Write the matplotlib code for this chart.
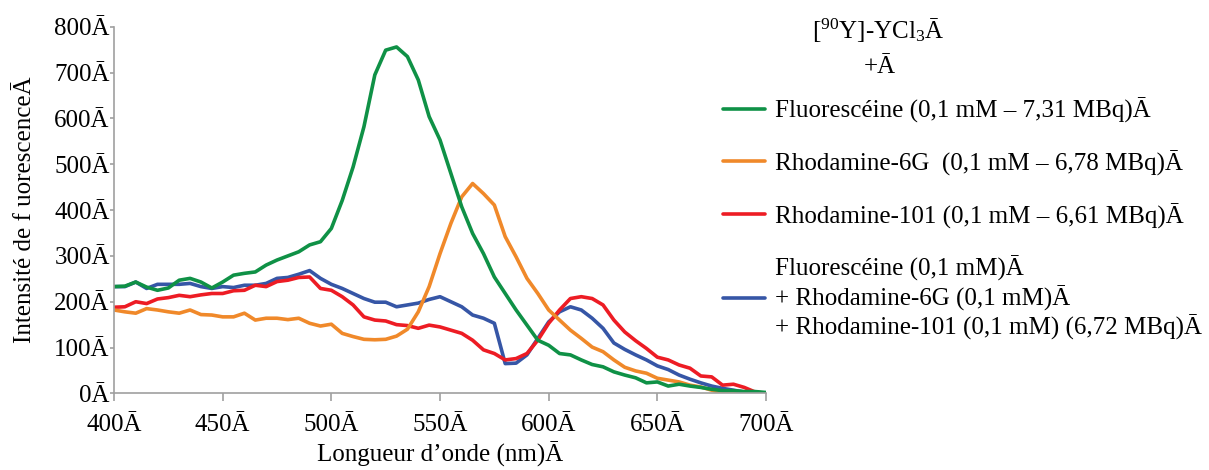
import matplotlib
matplotlib.use("Agg")
import matplotlib.pyplot as plt

plt.rcParams["font.family"] = ["Liberation Serif", "DejaVu Serif"]
plt.rcParams["mathtext.fontset"] = "custom"
plt.rcParams["mathtext.rm"] = "Liberation Serif"
plt.rcParams["mathtext.it"] = "Liberation Serif"

# wavelength grid (nm), 5 nm steps
wl = list(range(400, 705, 5))

fluoresceine = [233, 234, 243, 232, 225, 230, 247, 251, 243, 230,
                243, 258, 262, 265, 280, 291, 300, 309, 324, 331,
                360, 421, 494, 582, 695, 749, 756, 735, 684, 604,
                553, 480, 407, 349, 305, 254, 218, 182, 149, 116,
                105, 87, 84, 73, 63, 58, 47, 40, 34, 23,
                25, 16, 20, 16, 13, 9, 6, 6, 4, 4, 2]
rhodamine_6g = [182, 178, 175, 185, 182, 178, 175, 182, 172, 171,
                167, 167, 175, 160, 164, 164, 161, 164, 153, 147,
                151, 131, 124, 118, 117, 118, 125, 140, 178, 233,
                305, 371, 429, 458, 436, 411, 342, 298, 251, 218,
                182, 160, 138, 120, 101, 91, 73, 57, 49, 44,
                33, 29, 25, 18, 14, 7, 1, 0, 0, 0, 0]
rhodamine_101 = [188, 189, 200, 196, 206, 209, 214, 211, 215, 218,
                 218, 224, 225, 236, 233, 244, 247, 253, 254, 229,
                 225, 211, 193, 167, 160, 158, 150, 148, 142, 149,
                 145, 138, 131, 116, 95, 87, 73, 76, 87, 116,
                 153, 182, 207, 211, 207, 193, 160, 134, 115, 98,
                 79, 73, 62, 55, 38, 36, 18, 20, 13, 3, 0]
melange = [233, 233, 243, 229, 238, 238, 238, 240, 233, 229,
           233, 231, 236, 236, 240, 251, 253, 260, 268, 251,
           238, 229, 218, 207, 199, 199, 189, 193, 197, 205,
           211, 200, 189, 171, 164, 153, 65, 66, 84, 120,
           156, 178, 189, 182, 164, 142, 110, 96, 84, 73,
           60, 52, 40, 31, 23, 16, 11, 7, 3, 1, 0]

labels = ["Fluorescéine (0,1 mM – 7,31 MBq)Ā",
          "Rhodamine-6G  (0,1 mM – 6,78 MBq)Ā",
          "Rhodamine-101 (0,1 mM – 6,61 MBq)Ā",
          "Fluorescéine (0,1 mM)Ā\n+ Rhodamine-6G (0,1 mM)Ā\n"
          "+ Rhodamine-101 (0,1 mM) (6,72 MBq)Ā"]
colors = ["#0f9146", "#f0892a", "#ed1c24", "#3656a6"]
x_ticks = [400, 450, 500, 550, 600, 650, 700]
y_ticks = [0, 100, 200, 300, 400, 500, 600, 700, 800]

FS = 18

fig = plt.figure(figsize=(12.09, 4.70), dpi=100)
ax = fig.add_axes([0.0943, 0.163, 0.5393, 0.780])

series = [fluoresceine, rhodamine_6g, rhodamine_101, melange]
# mixture drawn first so the single dyes sit on top
for idx in [3, 2, 1, 0]:
    ax.plot(wl, series[idx], color=colors[idx], lw=2.6, label=labels[idx],
            solid_joinstyle="round", solid_capstyle="round")

ax.set_xlim(400, 700)
ax.set_ylim(0, 800)
ax.set_xticks(x_ticks)
ax.set_xticklabels([f"{v}Ā" for v in x_ticks])
ax.set_yticks(y_ticks)
ax.set_yticklabels([f"{v}Ā" for v in y_ticks])

for side in ["top", "right"]:
    ax.spines[side].set_visible(False)
for side in ["left", "bottom"]:
    ax.spines[side].set_color("#a0a0a0")
    ax.spines[side].set_linewidth(1.2)

ax.tick_params(axis="x", direction="out", length=6, width=1.2,
               color="#a0a0a0", labelsize=FS, pad=9)
ax.tick_params(axis="y", direction="out", length=3, width=1.2,
               color="#a0a0a0", labelsize=FS, pad=0)

ax.set_xlabel("Longueur d’onde (nm)Ā", fontsize=FS, labelpad=4)
ax.set_ylabel("Intensité de f uorescenceĀ", fontsize=FS, labelpad=13)

fig.text(0.726, 0.935, r"[$^{90}$Y]-YCl$_3$Ā", fontsize=FS,
         ha="center", va="center")
fig.text(0.728, 0.857, "+Ā", fontsize=FS, ha="center", va="center")

handles, labs = ax.get_legend_handles_labels()
order = [3, 2, 1, 0]
fig.legend([handles[i] for i in order], [labs[i] for i in order],
           loc="upper left", bbox_to_anchor=(0.598, 0.793),
           frameon=False, fontsize=FS, borderpad=0,
           borderaxespad=0, handlelength=1.7, handletextpad=0.4,
           labelspacing=1.1)

fig.savefig("out.png", dpi=100)
